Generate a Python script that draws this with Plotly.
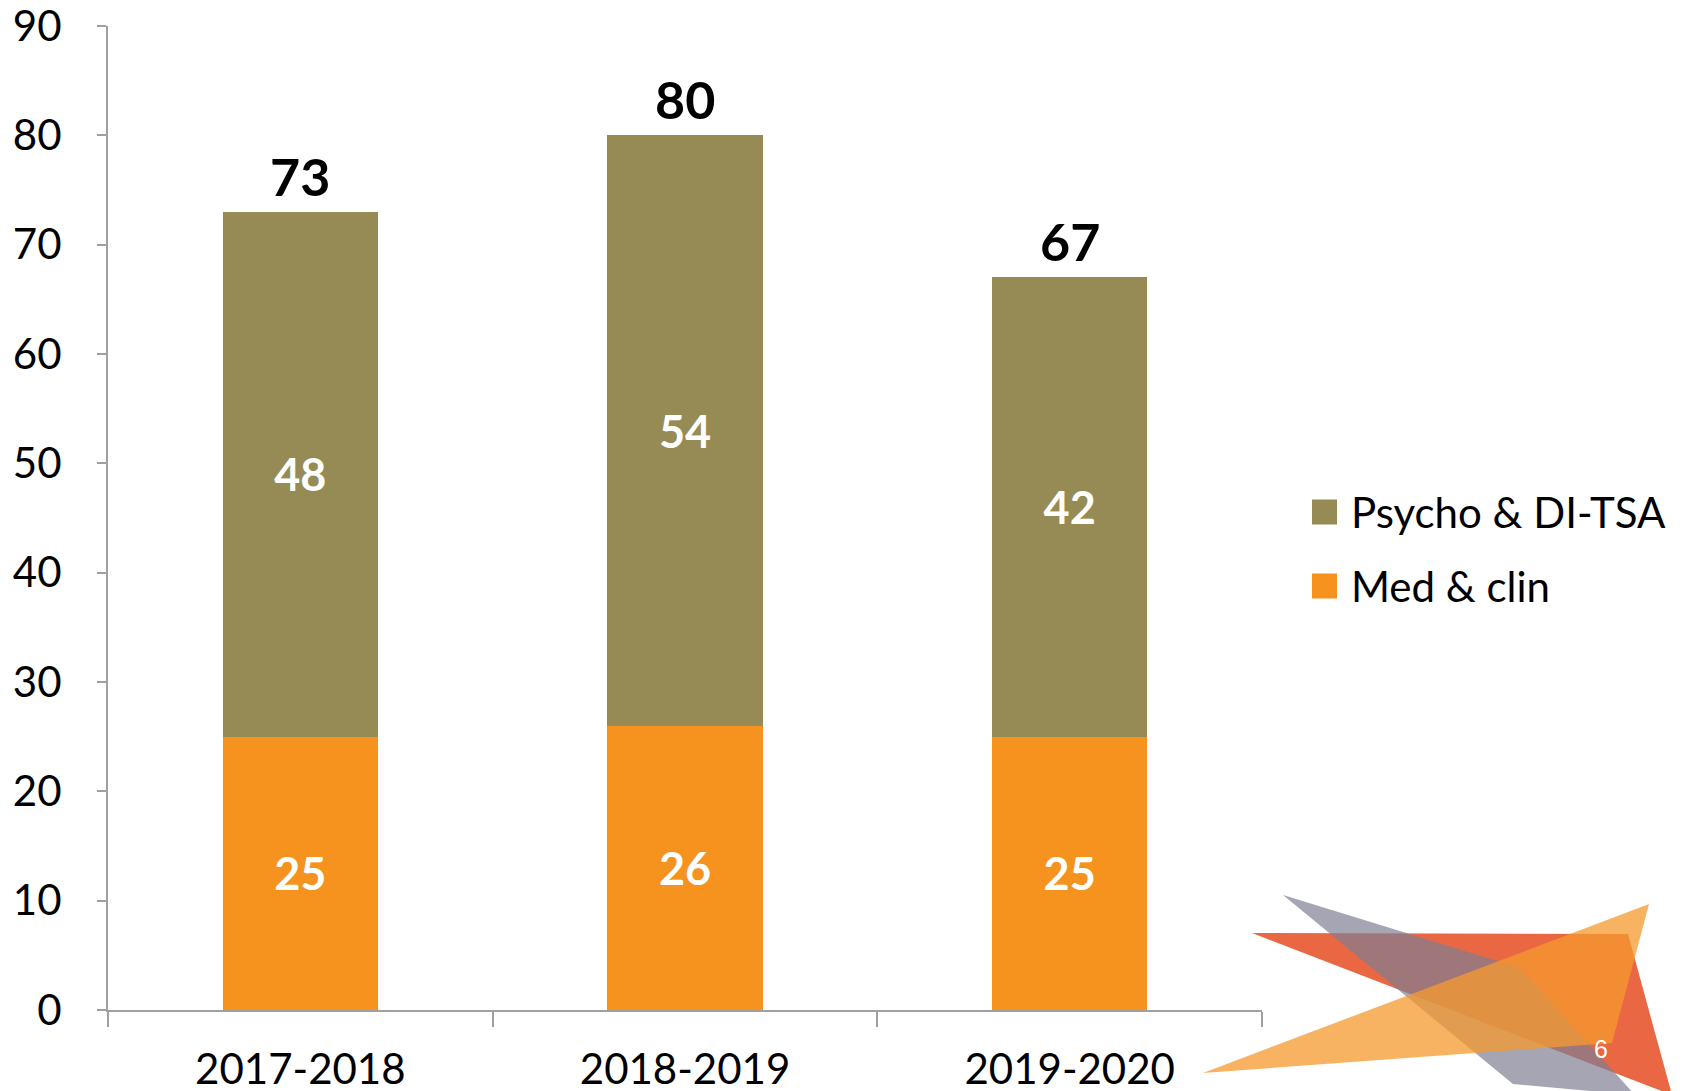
import plotly.graph_objects as go

# ---- data ----
categories = ["2017-2018", "2018-2019", "2019-2020"]
med_clin = [25, 26, 25]
psycho_ditsa = [48, 54, 42]
totals = [a + b for a, b in zip(med_clin, psycho_ditsa)]

legend_order = ["Psycho & DI-TSA", "Med & clin"]
colors = {"Med & clin": "#F6931F", "Psycho & DI-TSA": "#968B54"}

W, H = 1684, 1091
OFF = 8  # page body margin
L, T = 100, 18
PW, PH = 1154, 984
R, B = W - L - PW, H - T - PH

FONT = "Lato, Calibri, 'Open Sans', sans-serif"

fig = go.Figure()

for name, vals in [("Med & clin", med_clin), ("Psycho & DI-TSA", psycho_ditsa)]:
    fig.add_trace(go.Bar(
        x=categories, y=vals, name=name,
        marker=dict(color=colors[name], line=dict(width=0)),
        text=[str(v) for v in vals], textposition="inside",
        insidetextanchor="middle",
        textfont=dict(family=FONT, size=45, color="white", weight="bold"),
        showlegend=False, cliponaxis=False,
    ))

# total labels
for c, t in zip(categories, totals):
    fig.add_annotation(x=c, y=t, text=f"<b>{t}</b>", showarrow=False,
                       yanchor="bottom", yshift=3,
                       font=dict(family=FONT, size=52, color="black"))

# page pixel -> paper coords
def px(x, y):
    return (x - OFF - L) / PW, (T + OFF + PH - y) / PH

def path(pts):
    s = []
    for i, (x, y) in enumerate(pts):
        a, b = px(x, y)
        s.append(("M" if i == 0 else "L") + f"{a:.4f},{b:.4f}")
    return " ".join(s) + " Z"

# legend (drawn)
legend_y = [512, 586]
for name, yy in zip(legend_order, legend_y):
    x0, y0 = px(1312, yy - 12.5)
    x1, y1 = px(1337, yy + 12.5)
    fig.add_shape(type="rect", xref="paper", yref="paper", x0=x0, x1=x1, y0=y0, y1=y1,
                  fillcolor=colors[name], line=dict(width=0))
    tx, ty = px(1349, yy)
    fig.add_annotation(xref="paper", yref="paper", x=tx, y=ty, text=name, showarrow=False,
                       xanchor="left", yanchor="middle",
                       font=dict(family=FONT, size=42, color="black"))

# decorative triangles
red_tri = [(1252, 933), (1628, 934), (1672, 1095)]
gray_tri = [(1283, 895), (1520, 968), (1635, 1095), (1513, 1084)]
orange_tri = [(1203, 1073), (1649, 904), (1612, 1043)]

fig.add_shape(type="path", xref="paper", yref="paper", path=path(red_tri),
              fillcolor="#E85A33", opacity=0.92, line=dict(width=0), layer="above")
fig.add_shape(type="path", xref="paper", yref="paper", path=path(gray_tri),
              fillcolor="#7F7F93", opacity=0.7, line=dict(width=0), layer="above")
fig.add_shape(type="path", xref="paper", yref="paper", path=path(orange_tri),
              fillcolor="#F5992E", opacity=0.75, line=dict(width=0), layer="above")

a, b = px(1610, 1065)
fig.add_annotation(xref="paper", yref="paper", x=a, y=b, text="6", showarrow=False,
                   font=dict(family="Liberation Sans, Arial", size=25, color="white"))

fig.update_layout(
    width=W, height=H,
    margin=dict(l=L, r=R, t=T, b=B, autoexpand=False),
    barmode="stack", bargap=0.597,
    paper_bgcolor="white", plot_bgcolor="white",
    font=dict(family=FONT, color="black"),
    showlegend=False,
    xaxis=dict(type="category", showgrid=False, showline=True, linecolor="#A0A0A0",
               linewidth=2, ticks="outside", tickson="boundaries", ticklen=15,
               tickcolor="#A0A0A0", tickwidth=2,
               tickfont=dict(family=FONT, size=42, color="black"),
               ticklabelstandoff=22, ticklabeloverflow="allow", range=[-0.5, 2.5]),
    yaxis=dict(range=[0, 90], dtick=10, showgrid=False, showline=True,
               linecolor="#A0A0A0", linewidth=2, ticks="outside", ticklen=9,
               tickcolor="#A0A0A0", tickwidth=2, zeroline=False,
               tickfont=dict(family=FONT, size=42, color="black"),
               ticklabelstandoff=27, ticklabeloverflow="allow"),
)

fig.write_html("out.html")
